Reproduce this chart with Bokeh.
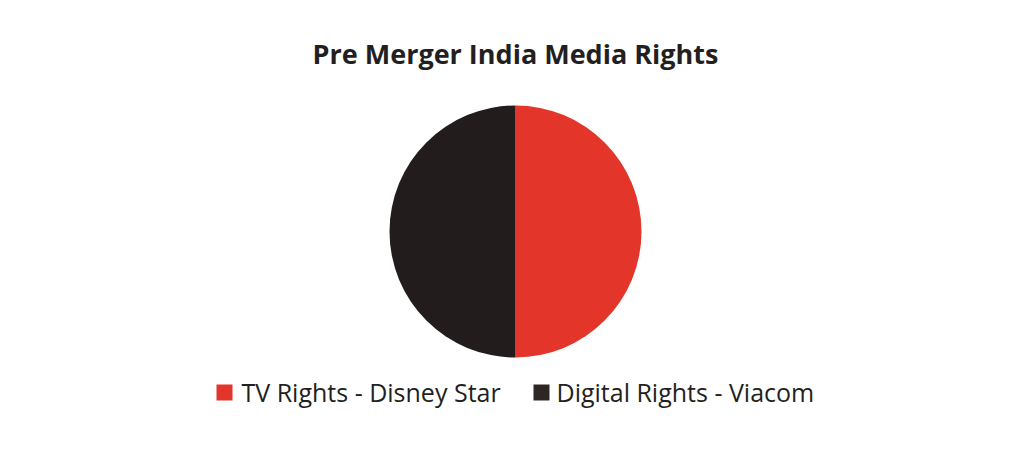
from math import pi

from bokeh.core.properties import value
from bokeh.embed import file_html
from bokeh.models import ColumnDataSource, Range1d
from bokeh.plotting import figure
from bokeh.resources import INLINE

# Chart data
title_text = "Pre Merger India Media Rights"
categories = ["TV Rights - Disney Star", "Digital Rights - Viacom"]
shares = [50, 50]
colors = ["#E4352A", "#221C1C"]
legend_colors = ["#E4352A", "#2E2624"]

W, H = 1030, 449
p = figure(width=W, height=H, output_backend="svg", toolbar_location=None,
           x_range=Range1d(0, W), y_range=Range1d(H, 0),
           min_border=0, outline_line_color=None)
p.axis.visible = False
p.grid.visible = False
p.background_fill_color = "white"
p.border_fill_color = "white"

# Pie: first slice starts at 12 o'clock and runs clockwise
total = float(sum(shares))
starts, ends = [], []
acc = 0.0
for s in shares:
    a0 = pi / 2 - acc / total * 2 * pi
    acc += s
    a1 = pi / 2 - acc / total * 2 * pi
    starts.append(a1)
    ends.append(a0)

src = ColumnDataSource(dict(cat=categories, start=starts, end=ends, color=colors))
cx, cy, r = 515, 231, 126
p.wedge(x=cx, y=cy, radius=r, start_angle="start", end_angle="end",
        direction="anticlock", fill_color="color", line_color=None,
        source=src, start_angle_units="rad")

# Title
p.text(x=[515], y=[53], text=[title_text], text_align="center",
       text_baseline="middle", text_font=value("Open Sans"),
       text_font_style="bold", text_font_size="27px", text_color="#231F20")

# Legend
sq_x = [224, 541]
txt_x = [241, 556]
p.rect(x=sq_x, y=[392, 392], width=16, height=16, fill_color=legend_colors,
       line_color=None)
p.text(x=txt_x, y=[391, 391], text=categories, text_align="left",
       text_baseline="middle", text_font=value("Open Sans"),
       text_font_size="25px", text_color="#231F20")

open("out.html", "w").write(file_html(p, INLINE))
